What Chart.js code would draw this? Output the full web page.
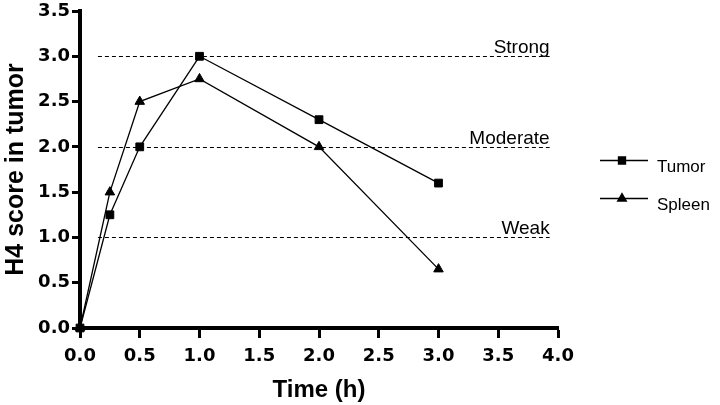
<!DOCTYPE html>
<html><head><meta charset="utf-8">
<script src="https://cdn.jsdelivr.net/npm/chart.js@4/dist/chart.umd.min.js"></script>
<style>html,body{margin:0;padding:0;background:#fff}#wrap{width:720px;height:405px}</style>
</head><body><div id="wrap"><canvas id="c" width="720" height="405"></canvas></div>
<script>
const times = [0, 0.25, 0.5, 1, 2, 3];
const tumor = [0, 1.25, 2.0, 3.0, 2.3, 1.6];
const spleen = [0, 1.5, 2.5, 2.75, 2.0, 0.65];
const seriesNames = ['Tumor', 'Spleen'];
const thresholds = [3, 2, 1];
const thresholdLabels = ['Strong', 'Moderate', 'Weak'];
const thresholdSpan = [0.15, 3.93];
const xTickValues = [0, 0.5, 1, 1.5, 2, 2.5, 3, 3.5, 4];
const yTickValues = [0, 0.5, 1, 1.5, 2, 2.5, 3, 3.5];

const FONT = "'Liberation Sans', Arial, Helvetica, sans-serif";
const TICKFONT = "'DejaVu Sans', Verdana, sans-serif";

const thresholdPlugin = {
  id: 'thresholds',
  beforeDatasetsDraw(chart) {
    const ctx = chart.ctx, xs = chart.scales.x, ys = chart.scales.y;
    ctx.save();
    ctx.strokeStyle = '#000';
    ctx.lineWidth = 1.2;
    ctx.setLineDash([4, 3]);
    ctx.fillStyle = '#000';
    ctx.font = '19px ' + FONT;
    ctx.textAlign = 'right';
    ctx.textBaseline = 'alphabetic';
    thresholds.forEach((v, i) => {
      const y = Math.round(ys.getPixelForValue(v)) + 0.5;
      const x0 = xs.getPixelForValue(thresholdSpan[0]);
      const x1 = xs.getPixelForValue(thresholdSpan[1]);
      ctx.beginPath(); ctx.moveTo(x0, y); ctx.lineTo(x1, y); ctx.stroke();
      ctx.fillText(thresholdLabels[i], x1, y - 4);
    });
    ctx.restore();
  }
};

const legendPlugin = {
  id: 'sideLegend',
  afterDraw(chart) {
    const ctx = chart.ctx;
    const rows = [160, 198];
    ctx.save();
    chart.data.datasets.forEach((ds, i) => {
      const y = rows[i] + 0.5;
      ctx.strokeStyle = '#000'; ctx.lineWidth = 1.3; ctx.setLineDash([]);
      ctx.beginPath(); ctx.moveTo(600, y); ctx.lineTo(648, y); ctx.stroke();
      ctx.fillStyle = '#000';
      Chart.helpers.drawPoint(ctx, {pointStyle: ds.pointStyle, radius: 5, borderWidth: 1, rotation: 0}, 622, y);
      ctx.fillStyle = '#000';
      ctx.font = '17px ' + FONT;
      ctx.textAlign = 'left'; ctx.textBaseline = 'alphabetic';
      ctx.fillText(ds.label, 657, rows[i] + 12);
    });
    ctx.restore();
  }
};

function mkData(vals) { return times.map((t, i) => ({x: t, y: vals[i]})); }

new Chart(document.getElementById('c').getContext('2d'), {
  type: 'line',
  data: {
    datasets: [
      {label: seriesNames[0], data: mkData(tumor), borderColor: '#000', backgroundColor: '#000', borderWidth: 1.3,
       pointStyle: 'rect', pointRadius: 5.5, pointBorderWidth: 1, pointBackgroundColor: '#000', pointBorderColor: '#000', tension: 0, fill: false, clip: false},
      {label: seriesNames[1], data: mkData(spleen), borderColor: '#000', backgroundColor: '#000', borderWidth: 1.3,
       pointStyle: 'triangle', pointRadius: 5.5, pointBorderWidth: 1, pointBackgroundColor: '#000', pointBorderColor: '#000', tension: 0, fill: false, clip: false}
    ]
  },
  options: {
    responsive: false, animation: false, devicePixelRatio: 1,
    layout: {padding: {top: 11, right: 162, bottom: 0, left: 0}},
    plugins: {legend: {display: false}, tooltip: {enabled: false}},
    scales: {
      x: {
        type: 'linear', min: 0, max: 4,
        afterBuildTicks: s => { s.ticks = xTickValues.map(v => ({value: v})); },
        afterFit: s => { s.height = 77; },
        border: {display: true, width: 4, color: '#000'},
        grid: {drawOnChartArea: false, color: '#000', tickColor: '#000', tickLength: 10, tickWidth: 3},
        ticks: {color: '#000', font: {family: TICKFONT, size: 18, weight: 'bold'}, padding: 8, maxRotation: 0, autoSkip: false,
                callback: v => Number(v).toFixed(1)},
        title: {display: true, text: 'Time (h)', color: '#000', font: {family: FONT, size: 24, weight: 'bold'}, padding: {top: 0, bottom: 0}}
      },
      y: {
        type: 'linear', min: 0, max: 3.5,
        afterBuildTicks: s => { s.ticks = yTickValues.map(v => ({value: v})); },
        afterFit: s => { s.width = 80; },
        border: {display: true, width: 4, color: '#000'},
        grid: {drawOnChartArea: false, color: '#000', tickColor: '#000', tickLength: 8, tickWidth: 3},
        ticks: {color: '#000', font: {family: TICKFONT, size: 18, weight: 'bold', lineHeight: 1}, padding: 2, autoSkip: false,
                callback: v => Number(v).toFixed(1)},
        title: {display: true, text: 'H4 score in tumor', color: '#000', font: {family: FONT, size: 25, weight: 'bold'}, padding: {top: 1, bottom: 0}}
      }
    }
  },
  plugins: [thresholdPlugin, legendPlugin]
});
</script>
</body></html>
